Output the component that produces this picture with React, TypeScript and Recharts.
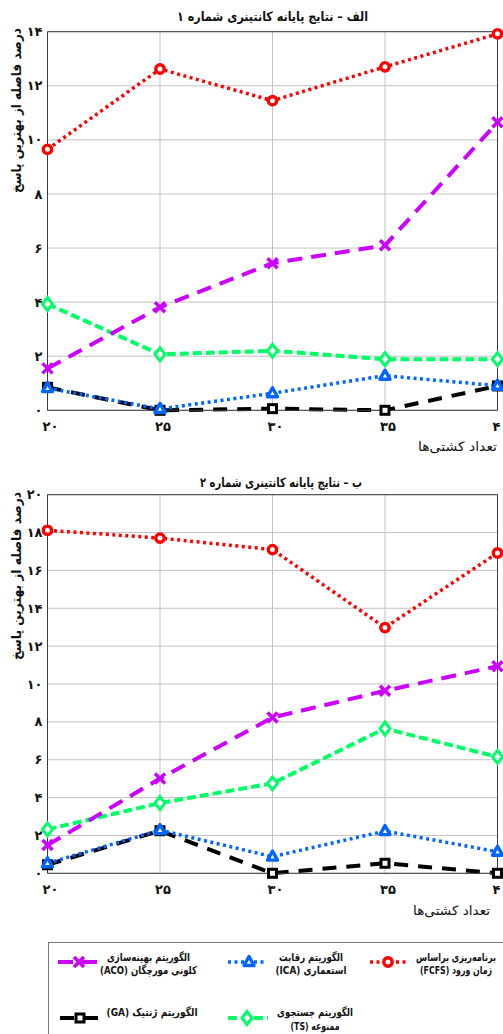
import React from "react";
import { LineChart, Line, XAxis, YAxis, CartesianGrid, ReferenceLine } from "recharts";

// number of ships (x axis)
const shipCounts = [20, 25, 30, 35, 40];

// terminal 1
const fcfs1 = [9.65, 12.62, 11.45, 12.7, 13.92];
const aco1 = [1.55, 3.81, 5.44, 6.1, 10.65];
const ts1 = [3.93, 2.07, 2.2, 1.89, 1.89];
const ica1 = [0.82, 0.05, 0.63, 1.28, 0.91];
const ga1 = [0.85, 0.0, 0.06, 0.0, 0.9];

// terminal 2
const fcfs2 = [18.12, 17.71, 17.1, 12.98, 16.92];
const aco2 = [1.49, 5.01, 8.23, 9.64, 10.94];
const ts2 = [2.32, 3.71, 4.75, 7.65, 6.15];
const ica2 = [0.53, 2.28, 0.88, 2.23, 1.14];
const ga2 = [0.45, 2.25, 0.0, 0.53, 0.0];

const yTicks1 = [0, 2, 4, 6, 8, 10, 12, 14];
const yTicks2 = [0, 2, 4, 6, 8, 10, 12, 14, 16, 18, 20];

const FONT = "'DejaVu Sans', sans-serif";
const faDigits = (n: number) => String(n).replace(/\d/g, (d) => "۰۱۲۳۴۵۶۷۸۹"[Number(d)]);

type MarkerKind = "circle" | "cross" | "triangle" | "diamond" | "square";

const SERIES: { key: string; color: string; dash: string; width: number; marker: MarkerKind }[] = [
  { key: "ga", color: "#000000", dash: "14 10", width: 4, marker: "square" },
  { key: "ts", color: "#00ff66", dash: "9 4", width: 4, marker: "diamond" },
  { key: "aco", color: "#cc00ff", dash: "15 9", width: 4, marker: "cross" },
  { key: "ica", color: "#0066ff", dash: "3 3.5", width: 3.5, marker: "triangle" },
  { key: "fcfs", color: "#ff0000", dash: "3 3.5", width: 3.5, marker: "circle" },
];

const Marker = ({ kind, cx, cy, color }: { kind: MarkerKind; cx: number; cy: number; color: string }) => {
  const sw = 3;
  if (kind === "circle") return <circle cx={cx} cy={cy} r={4.2} fill="#fff" stroke={color} strokeWidth={3.4} />;
  if (kind === "square") return <rect x={cx - 4} y={cy - 4} width={8} height={8} fill="#fff" stroke={color} strokeWidth={sw} />;
  if (kind === "diamond")
    return (
      <polygon
        points={`${cx},${cy - 6.5} ${cx + 5},${cy} ${cx},${cy + 6.5} ${cx - 5},${cy}`}
        fill="#fff"
        stroke={color}
        strokeWidth={sw}
      />
    );
  if (kind === "triangle")
    return (
      <polygon
        points={`${cx},${cy - 5.5} ${cx + 5},${cy + 3.5} ${cx - 5},${cy + 3.5}`}
        fill="#fff"
        stroke={color}
        strokeWidth={3.4}
        strokeLinejoin="round"
      />
    );
  return (
    <g stroke={color} strokeWidth={3.5}>
      <line x1={cx - 5} y1={cy - 5} x2={cx + 5} y2={cy + 5} />
      <line x1={cx - 5} y1={cy + 5} x2={cx + 5} y2={cy - 5} />
    </g>
  );
};

const buildRows = (fcfs: number[], aco: number[], ts: number[], ica: number[], ga: number[]) =>
  shipCounts.map((ships, i) => ({ ships, fcfs: fcfs[i], aco: aco[i], ts: ts[i], ica: ica[i], ga: ga[i] }));

const rows1 = buildRows(fcfs1, aco1, ts1, ica1, ga1);
const rows2 = buildRows(fcfs2, aco2, ts2, ica2, ga2);

const tickStyle = { fill: "#111", fontSize: 13, fontWeight: 700, fontFamily: FONT };

const Panel = ({ rows, yTicks }: { rows: Record<string, number>[]; yTicks: number[] }) => {
  const yMax = yTicks[yTicks.length - 1];
  return (
    <LineChart width={503} height={460} data={rows} margin={{ top: 31.7, right: 5.5, left: 0, bottom: 0 }}>
      <CartesianGrid stroke="#c2c2c2" />
      <XAxis
        dataKey="ships"
        type="number"
        domain={[20, 40]}
        ticks={shipCounts}
        interval={0}
        tickFormatter={faDigits}
        height={49.7}
        tickSize={0}
        tickMargin={11}
        dx={3}
        axisLine={{ stroke: "#3a3a3a" }}
        tick={tickStyle}
      />
      <YAxis
        type="number"
        domain={[0, yMax]}
        ticks={yTicks}
        interval={0}
        tickFormatter={faDigits}
        width={47.5}
        tickSize={0}
        tickMargin={5}
        axisLine={{ stroke: "#3a3a3a" }}
        tick={tickStyle}
      />
      <ReferenceLine y={yMax} stroke="#3a3a3a" />
      <ReferenceLine x={40} stroke="#3a3a3a" />
      {SERIES.map((s) => (
        <Line
          key={s.key}
          dataKey={s.key}
          stroke={s.color}
          strokeWidth={s.width}
          strokeDasharray={s.dash}
          isAnimationActive={false}
          dot={(p: any) => <Marker key={`${s.key}-${p.index}`} kind={s.marker} cx={p.cx} cy={p.cy} color={s.color} />}
          activeDot={false}
        />
      ))}
    </LineChart>
  );
};

const LEGEND = [
  { key: "aco", x1: 58, x2: 100, y: 962, mx: 79, tx: 148.5, lines: ["الگوریتم بهینه\u200cسازی", "کلونی مورچگان (ACO)"], w: [83, 97], ty: [957, 970.5] },
  { key: "ica", x1: 228, x2: 266, y: 962, mx: 249, tx: 311, lines: ["الگوریتم رقابت", "استعماری (ICA)"], w: [64, 71], ty: [957, 970.5] },
  { key: "fcfs", x1: 370, x2: 406, y: 962, mx: 388, tx: 456, lines: ["برنامه\u200cریزی براساس", "زمان ورود (FCFS)"], w: [80, 72], ty: [957, 970.5] },
  { key: "ga", x1: 60, x2: 100, y: 1018, mx: 80, tx: 152, lines: ["الگوریتم ژنتیک (GA)"], w: [91], ty: [1012.5] },
  { key: "ts", x1: 228, x2: 268, y: 1018, mx: 247, tx: 315, lines: ["الگوریتم جستجوی", "ممنوعه (TS)"], w: [76, 49], ty: [1012.5, 1026] },
];

const Label = ({ x, y, w, size, bold, rotate, children }: any) => (
  <text
    x={x}
    y={y}
    transform={rotate ? `rotate(-90 ${x} ${y})` : undefined}
    textAnchor="middle"
    dominantBaseline="central"
    direction="rtl"
    fontFamily={FONT}
    fontSize={size}
    fontWeight={bold ? 700 : 400}
    fill="#111"
    textLength={w}
    lengthAdjust="spacingAndGlyphs"
  >
    {children}
  </text>
);

const Overlay = () => (
  <svg width={503} height={1034} style={{ position: "absolute", left: 0, top: 0, pointerEvents: "none" }}>
    <Label x={272.5} y={16.5} w={191} size={13} bold>
      الف – نتایج پایانه کانتینری شماره ۱
    </Label>
    <Label x={281} y={482.5} w={162} size={13} bold>
      ب – نتایج پایانه کانتینری شماره ۲
    </Label>
    <Label x={16} y={110.5} w={165} size={13.5} bold rotate>
      درصد فاصله از بهترین پاسخ
    </Label>
    <Label x={16} y={576} w={168} size={13.5} bold rotate>
      درصد فاصله از بهترین پاسخ
    </Label>
    <Label x={457.5} y={446.5} w={79} size={13}>
      تعداد کشتی‌ها
    </Label>
    <Label x={451.5} y={910.5} w={77} size={13}>
      تعداد کشتی‌ها
    </Label>
    <rect x={48.5} y={942.5} width={480} height={120} fill="#fff" stroke="#7a7a7a" />
    {LEGEND.map((item) => {
      const s = SERIES.find((v) => v.key === item.key)!;
      return (
        <g key={item.key}>
          <line x1={item.x1} y1={item.y} x2={item.x2} y2={item.y} stroke={s.color} strokeWidth={s.width} strokeDasharray={s.dash} />
          <Marker kind={s.marker} cx={item.mx} cy={item.y} color={s.color} />
          {item.lines.map((t, i) => (
            <Label key={i} x={item.tx} y={item.ty[i]} w={item.w[i]} size={11} bold>
              {t}
            </Label>
          ))}
        </g>
      );
    })}
  </svg>
);

export default function App() {
  return (
    <div style={{ position: "absolute", left: 0, top: 0, width: 503, height: 1034, background: "#fff", overflow: "hidden" }}>
      <div style={{ position: "absolute", left: 0, top: 0 }}>
        <Panel rows={rows1} yTicks={yTicks1} />
      </div>
      <div style={{ position: "absolute", left: 0, top: 462.6 }}>
        <Panel rows={rows2} yTicks={yTicks2} />
      </div>
      <Overlay />
    </div>
  );
}
